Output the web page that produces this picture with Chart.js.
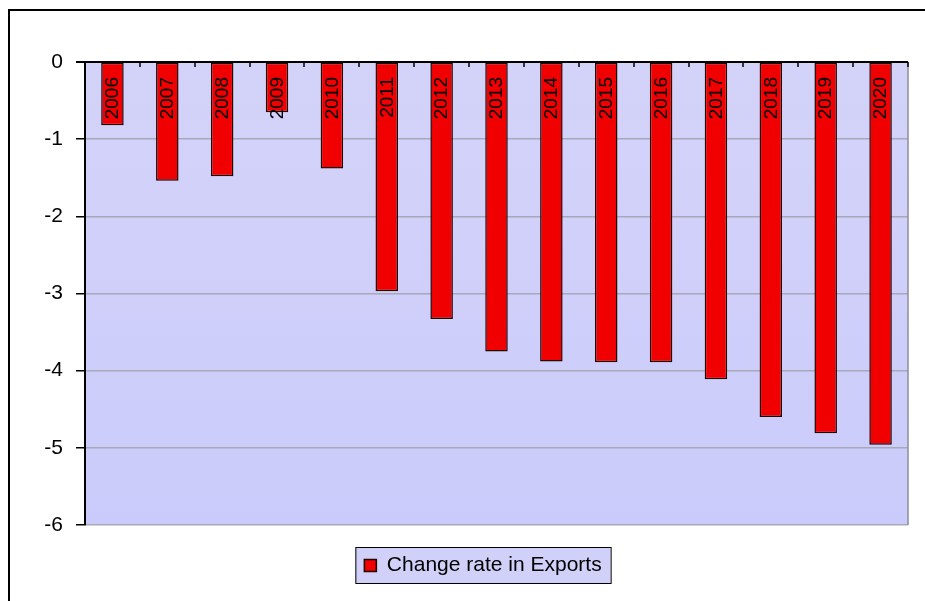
<!DOCTYPE html>
<html>
<head>
<meta charset="utf-8">
<script src="https://cdn.jsdelivr.net/npm/chart.js@4"></script>
<style>
  html, body { margin: 0; padding: 0; background: #fff; }
  #wrap { width: 925px; height: 601px; position: relative; }
</style>
</head>
<body>
<div id="wrap"><canvas id="grafico"></canvas></div>
<script>
const years = ['2006', '2007', '2008', '2009', '2010', '2011', '2012', '2013', '2014', '2015', '2016', '2017', '2018', '2019', '2020'];
const exportRate = [-0.82, -1.54, -1.48, -0.65, -1.38, -2.97, -3.33, -3.75, -3.88, -3.89, -3.89, -4.11, -4.60, -4.81, -4.96];
const yTicks = [0, -1, -2, -3, -4, -5, -6];
const seriesName = 'Change rate in Exports';

// fondo del área, marco exterior y caja de la leyenda
const marco = {
    id: 'marco',
    afterLayout(chart) {
        // la leyenda va algo a la derecha del centro
        chart.legend.left += 29;
        chart.legend.right += 29;
    },
    beforeDraw(chart) {
        const { ctx, chartArea: a } = chart;
        ctx.save();
        const g = ctx.createLinearGradient(0, a.top, 0, a.bottom);
        g.addColorStop(0, '#d3d3f9');
        g.addColorStop(1, '#cbcbfb');
        ctx.fillStyle = g;
        ctx.fillRect(a.left, a.top, a.right - a.left, a.bottom - a.top);

        // borde exterior (arriba e izquierda)
        ctx.strokeStyle = '#000';
        ctx.lineWidth = 2;
        ctx.beginPath();
        ctx.moveTo(9, 601);
        ctx.lineTo(9, 10);
        ctx.lineTo(925, 10);
        ctx.stroke();

        // caja de la leyenda
        const hb = chart.legend.legendHitBoxes[0];
        if (hb) {
            const x0 = hb.left - 9, y0 = hb.top - 8;
            const w = hb.width + 18, h = hb.height + 15;
            ctx.fillStyle = '#d0d0f8';
            ctx.fillRect(x0, y0, w, h);
            ctx.lineWidth = 1;
            ctx.strokeStyle = '#000';
            ctx.strokeRect(x0 + 0.5, y0 + 0.5, w, h);
        }
        ctx.restore();
    },
    afterDatasetsDraw(chart) {
        const { ctx, chartArea: a, scales: { x, y } } = chart;
        ctx.save();
        // borde derecho gris
        ctx.strokeStyle = '#8c8c9c';
        ctx.lineWidth = 1.5;
        ctx.beginPath();
        ctx.moveTo(a.right, a.top);
        ctx.lineTo(a.right, a.bottom);
        ctx.stroke();

        // eje en cero
        const y0 = y.getPixelForValue(0);
        ctx.strokeStyle = '#000';
        ctx.lineWidth = 2;
        ctx.beginPath();
        ctx.moveTo(a.left - 9, y0);
        ctx.lineTo(a.right, y0);
        ctx.stroke();

        // marcas entre categorías
        const paso = x.getPixelForValue(1) - x.getPixelForValue(0);
        ctx.lineWidth = 1.5;
        for (let i = 0; i < years.length; i++) {
            const px = Math.round(x.getPixelForValue(i) + paso / 2);
            ctx.beginPath();
            ctx.moveTo(px, y0);
            ctx.lineTo(px, y0 + 5);
            ctx.stroke();
        }

        // etiquetas de años giradas
        ctx.fillStyle = '#000';
        ctx.font = '19px "Liberation Sans", Arial, sans-serif';
        ctx.textAlign = 'right';
        ctx.textBaseline = 'middle';
        years.forEach((yr, i) => {
            ctx.save();
            ctx.translate(x.getPixelForValue(i) + 0.5, y0 + 15);
            ctx.rotate(-Math.PI / 2);
            ctx.fillText(yr, 0, 0);
            ctx.restore();
        });
        ctx.restore();
    }
};

const ctx = document.getElementById('grafico').getContext('2d');
new Chart(ctx, {
    type: 'bar',
    data: {
        labels: years,
        datasets: [{
            label: seriesName,
            data: exportRate,
            backgroundColor: '#f00000',
            borderColor: '#200000',
            borderWidth: 1.5,
            borderSkipped: false,
            barPercentage: 0.41,
            categoryPercentage: 1
        }]
    },
    options: {
        responsive: true,
        maintainAspectRatio: false,
        animation: false,
        layout: {
            padding: { top: 62, right: 17, left: 0, bottom: 15 }
        },
        scales: {
            x: {
                display: true,
                position: 'bottom',
                ticks: { display: false },
                grid: { display: false },
                border: { display: false },
                afterFit(scale) {
                    scale.height = 30;
                }
            },
            y: {
                min: -6,
                max: 0,
                afterBuildTicks(scale) {
                    scale.ticks = yTicks.map(v => ({ value: v }));
                },
                afterFit(scale) {
                    scale.width = 85;
                },
                border: { display: true, color: '#000', width: 2 },
                grid: {
                    color: '#a8a8b8',
                    lineWidth: 1.5,
                    tickLength: 9,
                    tickColor: '#000'
                },
                ticks: {
                    padding: 13,
                    color: '#000',
                    font: { size: 21, family: '"Liberation Sans", Arial, sans-serif' }
                }
            }
        },
        plugins: {
            legend: {
                position: 'bottom',
                labels: {
                    boxWidth: 12,
                    boxHeight: 12,
                    padding: 0,
                    color: '#000',
                    font: { size: 21, family: '"Liberation Sans", Arial, sans-serif' }
                }
            },
            tooltip: { enabled: false }
        }
    },
    plugins: [marco]
});
</script>
</body>
</html>
